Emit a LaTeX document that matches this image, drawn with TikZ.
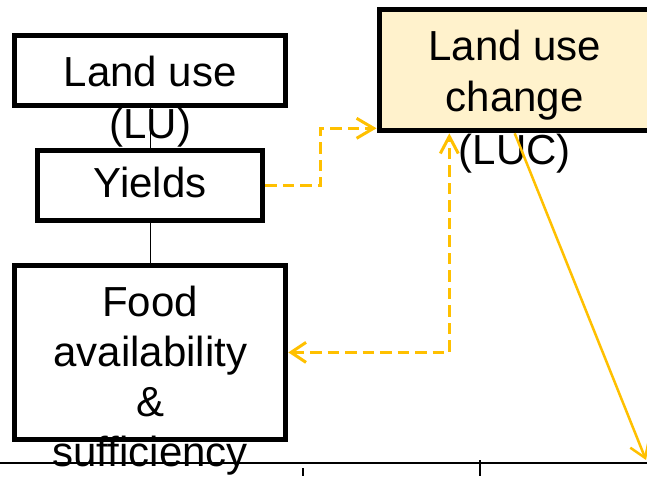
\documentclass[tikz,border=0pt]{standalone}
\usepackage{fontspec}
\setmainfont{Liberation Sans}
\usetikzlibrary{arrows.meta}
\definecolor{gold}{HTML}{FFC000}
\definecolor{lucfill}{HTML}{FFF2CC}
\begin{document}
\begin{tikzpicture}[x=1pt, y=-1pt,
  box/.style={draw=black, line width=5pt, rectangle, inner sep=0pt},
  % multi-line labels are placed by the baseline of their last line
  lbl/.style={font=\fontsize{42}{50.5}\selectfont, align=center, anchor=base, inner sep=0pt},
  link/.style={line width=1.3pt},
  dasharr/.style={draw=gold, line width=3pt, dash pattern=on 11.5pt off 6pt},
  solidarr/.style={draw=gold, line width=2.5pt, -{Straight Barb[length=15pt, width=20pt]}},
]
\useasboundingbox (0,0) rectangle (647,476);

% boxes
\node[box, minimum width=271.3pt, minimum height=70pt] (lu) at (150.2,70.8) {};
\node[box, minimum width=225.5pt, minimum height=70pt] (yields) at (150.2,185.8) {};
\node[box, minimum width=271.3pt, minimum height=173.2pt] (food) at (150.2,352.4) {};
\node[box, fill=lucfill, minimum width=271.3pt, minimum height=121.6pt] (luc) at (514.7,70) {};

% plain links down the left column
\draw[link] (lu.south) -- (yields.north);
\draw[link] (yields.south) -- (food.north);

% box texts
\node[lbl, font=\fontsize{42}{51.3}\selectfont] (lu-text) at (150.2,138) {Land use\\(LU)};
\node[lbl] (yields-text) at (150.2,197.7) {Yields};
\node[lbl, font=\fontsize{42}{50}\selectfont] (food-text) at (150.2,466.7) {Food\\availability\\\&\\sufficiency};
\node[lbl, font=\fontsize{42}{52}\selectfont] (luc-text) at (514.7,164) {Land use\\change\\(LUC)};

% dashed feedback arrows
\draw[dasharr, -{Straight Barb[length=17pt, width=20pt]}]
  (yields.east) -- ++(55.2,0) |- ([yshift=5pt]luc.south west);
\draw[dasharr, {Straight Barb[length=15pt, width=20pt]}-{Straight Barb[length=17pt, width=18pt]}]
  (food.east) -| ([xshift=-65.4pt]luc.south);

% solid arrow leaving the picture
\coordinate (out) at (646,460);
\draw[solidarr] (luc.south) -- (out);

% rule along the bottom
\draw[line width=2.5pt] (0,463) -- (647,463);
\draw[line width=1.5pt] (303,468) -- (303,476);
\draw[line width=1.5pt] (480,460) -- (480,476);
\end{tikzpicture}
\end{document}
